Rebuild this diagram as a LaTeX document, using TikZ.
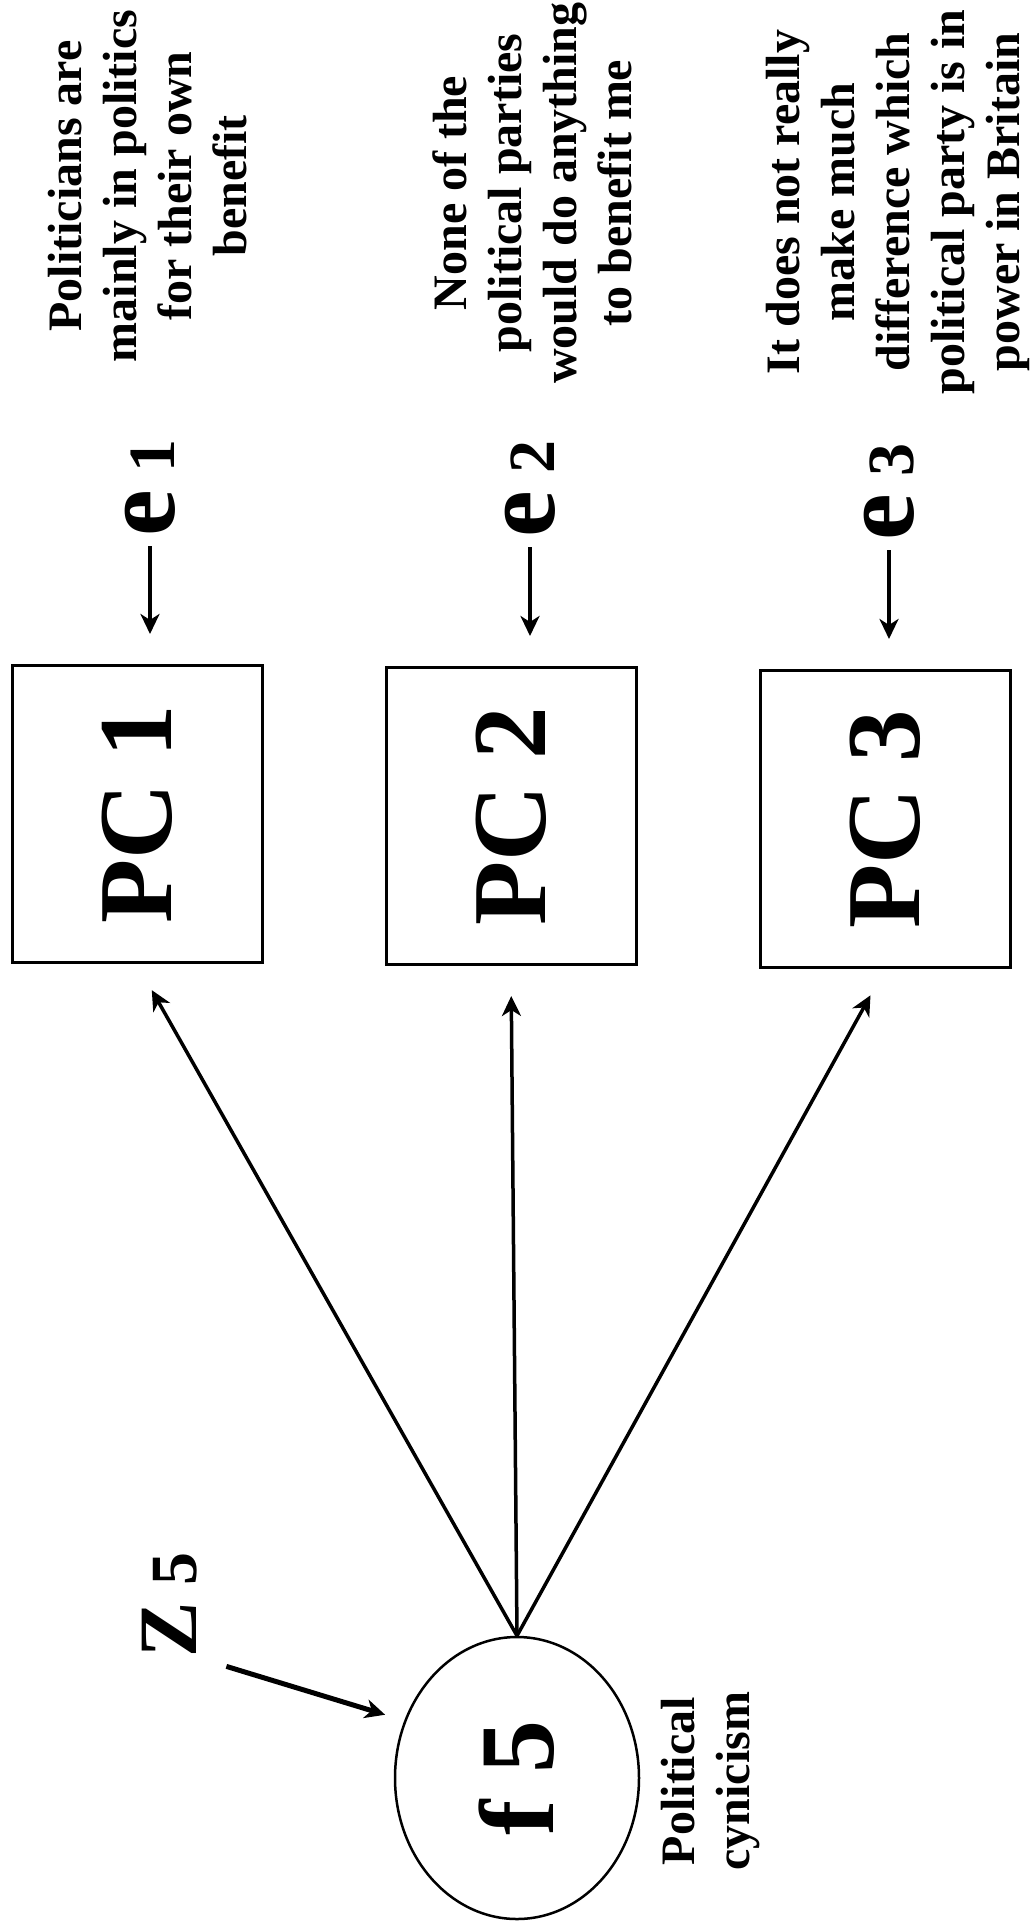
\documentclass[tikz,border=0pt]{standalone}
\usepackage{fontspec}
\setmainfont{Liberation Serif}
\usetikzlibrary{arrows.meta,shapes.geometric}

\newcommand{\idx}[1]{{\fontsize{66}{66}\selectfont\ #1}}

\tikzset{
  stmt/.style={rotate=90, align=center, inner sep=0pt,
    font=\fontsize{48}{55}\selectfont\bfseries},
  pcbox/.style={draw, rotate=90, line width=3pt, minimum width=297pt,
    minimum height=250pt, inner sep=0pt,
    font=\fontsize{105}{105}\selectfont\bfseries},
  errlab/.style={rotate=90, inner sep=0pt,
    font=\fontsize{105}{105}\selectfont\bfseries},
  factor/.style={draw, ellipse, rotate=90, line width=2.5pt, minimum width=282pt,
    minimum height=244pt, inner sep=0pt,
    font=\fontsize{106}{106}\selectfont\bfseries},
  tip/.style={-{Stealth[length=20pt, width=19pt, inset=6pt]}},
  loading/.style={tip, line width=3.5pt, shorten >=30pt},
  errarrow/.style={tip, line width=3.5pt, shorten <=10pt, shorten >=30pt},
}

\begin{document}
\begin{tikzpicture}[x=1pt,y=-1pt]
  \useasboundingbox (0,0) rectangle (1032,1924);
  \draw
    (148,186) node[stmt] (s1){Politicians are\\mainly in politics\\for their own\\benefit}
    (532,193) node[stmt] (s2){None of the\\political parties\\would do anything\\to benefit me}
    (898,202) node[stmt] (s3){It does not really\\make much\\difference which\\political party is in\\power in Britain}
    (150,488) node[errlab] (e1){e\idx{1}}
    (530,489) node[errlab] (e2){e\idx{2}}
    (889,492) node[errlab] (e3){e\idx{3}}
    (137,814) node[pcbox] (pc1){PC 1}
    (511,816) node[pcbox] (pc2){PC 2}
    (885,819) node[pcbox] (pc3){PC 3}
    (517,1778) node[factor] (f5){f 5}
    (711,1781) node[stmt] (cyn){Political\\cynicism}
    (170,1605) node[errlab, font=\fontsize{83}{83}\selectfont\bfseries] (z5){Z\idx{5}};
  \begin{scope}[errarrow]
    \draw (e1.west) to (e1.west |- pc1.east);
    \draw (e2.west) to (e2.west |- pc2.east);
    \draw (e3.west) to (e3.west |- pc3.east);
  \end{scope}
  \begin{scope}[loading]
    \draw (f5.east) to (pc1.west);
    \draw (f5.east) to (pc2.west);
    \draw (f5.east) to (pc3.west);
  \end{scope}
  \draw[tip, line width=5pt, shorten <=30pt, shorten >=20pt] (z5.south west) to (f5.63);
\end{tikzpicture}
\end{document}
